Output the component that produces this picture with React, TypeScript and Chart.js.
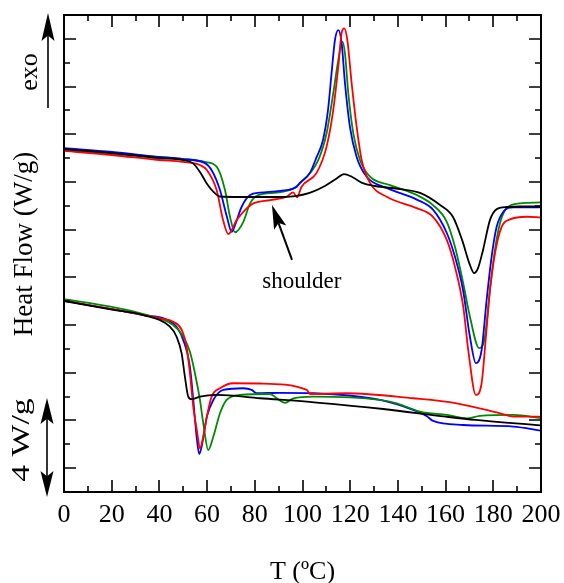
import { useEffect, useRef } from 'react';
import { Chart, registerables } from 'chart.js';

Chart.register(...registerables);

// ---------- data (T in °C, heat flow in W/g, curves offset vertically) ----------
const xTickValues = [0, 20, 40, 60, 80, 100, 120, 140, 160, 180, 200];

const blackTopT = [0, 20, 40, 50, 54, 57, 60, 62, 65.4, 73.8, 86.4, 96.9, 103, 109.4, 114, 117.4, 120.8, 125, 130.4, 140.9, 149.3, 157.7, 163.1, 166.9, 170.2, 171.9, 173.6, 175.7, 178.6, 181.6, 185.7, 191.2, 200];
const blackTopY = [14.38, 14.21, 14.0, 13.92, 13.79, 13.42, 12.91, 12.66, 12.39, 12.37, 12.37, 12.41, 12.54, 12.83, 13.12, 13.33, 13.21, 12.96, 12.83, 12.7, 12.54, 12.03, 11.53, 10.57, 9.52, 9.18, 9.39, 10.15, 11.4, 11.87, 11.95, 11.97, 11.97];

const blueTopT = [0, 20.1, 39.8, 49.9, 59.1, 62.1, 65.4, 68.3, 70.3, 71.7, 74.5, 78.0, 82.2, 90.6, 97.6, 98.9, 103.1, 106.0, 108.6, 110.7, 112.2, 113.6, 115.0, 116.4, 117.8, 119.9, 122.7, 126.9, 135.3, 147.9, 154.7, 160.5, 163.9, 167.3, 170.2, 172.7, 175.1, 177.2, 179.3, 181.4, 184.2, 188.4, 200];
const blueTopY = [14.42, 14.26, 14.05, 13.96, 13.79, 13.46, 12.66, 11.54, 10.91, 11.19, 11.96, 12.45, 12.55, 12.63, 12.8, 12.96, 13.38, 14.06, 14.76, 16.02, 17.57, 18.95, 19.37, 18.83, 17.15, 15.3, 14.05, 13.22, 12.75, 12.26, 11.84, 10.86, 9.87, 8.47, 6.51, 5.4, 5.95, 8.05, 9.87, 11.12, 11.75, 11.94, 11.94];

const redTopT = [0, 20.1, 39.8, 49.9, 57.0, 59.9, 64.0, 66.7, 68.9, 72.4, 75.9, 79.4, 86.4, 93.4, 96.1, 97.7, 99.6, 105.9, 110.1, 112.9, 115.0, 116.4, 117.5, 118.8, 120.6, 122.7, 124.8, 128.3, 135.3, 147.9, 154.7, 160.5, 163.9, 167.4, 169.5, 172.7, 175.1, 176.9, 178.6, 180.7, 183.5, 187.0, 194.0, 200];
const redTopY = [14.3, 14.13, 13.92, 13.84, 13.71, 13.5, 12.66, 11.4, 10.81, 11.4, 11.82, 12.1, 12.24, 12.38, 12.56, 12.35, 12.8, 13.38, 14.48, 16.02, 17.83, 19.25, 19.44, 18.95, 17.15, 15.32, 13.92, 12.96, 12.38, 11.9, 11.54, 10.57, 9.45, 7.77, 5.95, 4.07, 4.56, 6.51, 8.47, 10.01, 11.12, 11.43, 11.54, 11.51];

const greenTopT = [0, 20.1, 39.8, 49.9, 59.1, 64.0, 67.5, 69.6, 71.7, 75.2, 78.0, 81.5, 89.2, 96.2, 98.9, 106.6, 110.1, 112.9, 115.0, 116.7, 117.8, 119.2, 121.3, 124.1, 128.3, 136.7, 147.9, 154.7, 160.5, 163.9, 167.4, 170.2, 174.1, 176.5, 178.6, 180.7, 182.8, 185.6, 191.2, 200];
const greenTopY = [14.34, 14.21, 14.05, 13.96, 13.84, 13.64, 12.66, 11.54, 10.89, 11.33, 12.1, 12.45, 12.55, 12.73, 12.94, 13.92, 15.04, 16.72, 18.11, 18.88, 18.39, 16.72, 15.04, 13.92, 13.22, 12.87, 12.45, 12.03, 11.33, 10.29, 8.75, 7.35, 6.03, 6.51, 8.47, 10.15, 11.27, 11.9, 12.1, 12.14];

const blackBotT = [0, 20.1, 33.3, 44.4, 47.2, 49.3, 50.7, 52.1, 53.5, 57.0, 64.0, 82.2, 105.9, 133.8, 160.0, 172.6, 200];
const blackBotY = [8.01, 7.65, 7.42, 6.93, 6.51, 5.82, 4.83, 4.0, 3.89, 4.0, 4.07, 3.93, 3.75, 3.48, 3.16, 3.02, 2.79];

const redBotT = [0, 20.1, 33.3, 40.3, 45.8, 49.4, 51.4, 52.8, 54.2, 55.9, 57.0, 58.4, 59.9, 61.9, 65.4, 71.0, 82.2, 101.8, 103.1, 118.5, 146.4, 164.6, 182.8, 188.4, 200];
const redBotY = [8.01, 7.67, 7.42, 7.28, 7.14, 6.79, 6.09, 4.98, 3.58, 2.46, 1.83, 2.32, 3.16, 4.0, 4.35, 4.56, 4.55, 4.28, 4.11, 4.14, 3.93, 3.72, 3.3, 3.16, 3.16];

const blueBotT = [0, 20.1, 33.3, 45.8, 50.0, 52.8, 54.2, 55.6, 56.7, 57.7, 59.9, 62.6, 66.8, 75.2, 78.7, 80.8, 90.6, 104.5, 132.5, 146.4, 152.0, 154.8, 167.4, 188.4, 200];
const blueBotY = [8.01, 7.67, 7.42, 7.07, 6.37, 5.25, 3.86, 2.32, 1.59, 1.9, 3.16, 3.86, 4.28, 4.35, 4.28, 4.14, 4.16, 4.14, 3.86, 3.44, 3.19, 2.98, 2.81, 2.74, 2.57];

const greenBotT = [0, 20.1, 33.3, 45.8, 50.0, 52.8, 54.9, 57.0, 58.4, 60.5, 62.6, 65.4, 68.2, 73.8, 86.4, 89.2, 92.7, 96.2, 104.5, 132.5, 139.5, 149.3, 160.5, 168.9, 174.4, 188.4, 200];
const greenBotY = [8.09, 7.76, 7.46, 7.0, 6.51, 5.88, 4.98, 3.86, 2.88, 1.76, 2.32, 3.3, 3.86, 4.07, 4.11, 3.93, 3.74, 3.93, 4.0, 3.86, 3.72, 3.37, 3.23, 3.09, 3.19, 3.23, 3.1];

// shoulder annotation (data coordinates)
const shoulderTip = { x: 87.2, y: 12.03 };
const shoulderTail = { x: 95.6, y: 9.73 };
const shoulderText = { x: 99.7, y: 8.8 };

const SERIF = "'Liberation Serif', 'Times New Roman', serif";
const BLACK = '#000000';
const RED = '#ff0000';
const BLUE = '#0000ff';
const GREEN = '#008a00';

const zip = (xs: number[], ys: number[]) => xs.map((x, i) => ({ x, y: ys[i] }));

function drawArrow(ctx: CanvasRenderingContext2D, x1: number, y1: number, x2: number, y2: number, len: number, half: number) {
  const a = Math.atan2(y2 - y1, x2 - x1);
  const c = Math.cos(a), s = Math.sin(a);
  const bx = x2 - len * c, by = y2 - len * s;
  const nx = x2 - len * 0.8 * c, ny = y2 - len * 0.8 * s;
  ctx.beginPath();
  ctx.moveTo(x1, y1);
  ctx.lineTo(nx, ny);
  ctx.stroke();
  ctx.beginPath();
  ctx.moveTo(x2, y2);
  ctx.lineTo(bx - half * s, by + half * c);
  ctx.lineTo(nx, ny);
  ctx.lineTo(bx + half * s, by - half * c);
  ctx.closePath();
  ctx.fill();
}

function rotatedText(ctx: CanvasRenderingContext2D, text: string, x: number, y: number, size: number, stretch = 1) {
  ctx.save();
  ctx.translate(x, y);
  ctx.rotate(-Math.PI / 2);
  ctx.scale(stretch, 1);
  ctx.font = `${size}px ${SERIF}`;
  ctx.textAlign = 'center';
  ctx.textBaseline = 'middle';
  ctx.fillText(text, 0, 0);
  ctx.restore();
}

const decorPlugin = {
  id: 'decor',
  afterDraw(chart: any) {
    const { ctx, chartArea: ca, scales } = chart;
    const xs = scales.x, ys = scales.y;
    ctx.save();
    ctx.strokeStyle = BLACK;
    ctx.fillStyle = BLACK;
    // frame
    ctx.lineWidth = 2;
    ctx.strokeRect(ca.left, ca.top, ca.right - ca.left, ca.bottom - ca.top);
    // x ticks (bottom & top, inward)
    ctx.lineWidth = 1.6;
    for (let v = 10; v < 200; v += 10) {
      const px = Math.round(xs.getPixelForValue(v));
      const len = v % 20 === 0 ? 12 : 6;
      ctx.beginPath();
      ctx.moveTo(px, ca.bottom);
      ctx.lineTo(px, ca.bottom - len);
      ctx.moveTo(px, ca.top);
      ctx.lineTo(px, ca.top + len);
      ctx.stroke();
    }
    // y ticks (left & right, inward)
    for (let v = 1; v < 20; v += 1) {
      const py = Math.round(ys.getPixelForValue(v));
      const len = v % 2 === 1 ? 12 : 6;
      ctx.beginPath();
      ctx.moveTo(ca.left, py);
      ctx.lineTo(ca.left + len, py);
      ctx.moveTo(ca.right, py);
      ctx.lineTo(ca.right - len, py);
      ctx.stroke();
    }
    // axis titles
    ctx.font = `26px ${SERIF}`;
    ctx.textAlign = 'center';
    ctx.textBaseline = 'middle';
    ctx.fillText('T (ºC)', (ca.left + ca.right) / 2, 572);
    rotatedText(ctx, 'Heat Flow (W/g)', 25, 244, 27);
    rotatedText(ctx, 'exo', 30, 72, 26);
    rotatedText(ctx, '4 W/g', 22, 440, 26, 1.3);
    // exo arrow
    ctx.lineWidth = 1.6;
    drawArrow(ctx, 48, 108, 48, 13, 28, 6.5);
    // 4 W/g double arrow
    drawArrow(ctx, 47, 448, 47, 398, 26, 6.5);
    drawArrow(ctx, 47, 448, 47, 497, 26, 6.5);
    // shoulder
    const tx = xs.getPixelForValue(shoulderTip.x), ty = ys.getPixelForValue(shoulderTip.y);
    const lx = xs.getPixelForValue(shoulderTail.x), ly = ys.getPixelForValue(shoulderTail.y);
    ctx.lineWidth = 2;
    drawArrow(ctx, lx, ly, tx, ty, 24, 6.5);
    ctx.font = `23px ${SERIF}`;
    ctx.fillText('shoulder', xs.getPixelForValue(shoulderText.x), ys.getPixelForValue(shoulderText.y));
    ctx.restore();
  },
};

const line = (label: string, color: string, xs: number[], ys: number[]) => ({
  label,
  data: zip(xs, ys),
  borderColor: color,
  backgroundColor: color,
  borderWidth: 1.8,
  pointRadius: 0,
  fill: false,
  cubicInterpolationMode: 'monotone' as const,
});

export default function App() {
  const ref = useRef<HTMLCanvasElement>(null);
  useEffect(() => {
    const chart = new Chart(ref.current as HTMLCanvasElement, {
      type: 'line',
      data: {
        datasets: [
          line('black top', BLACK, blackTopT, blackTopY),
          line('red top', RED, redTopT, redTopY),
          line('blue top', BLUE, blueTopT, blueTopY),
          line('green top', GREEN, greenTopT, greenTopY),
          line('black bottom', BLACK, blackBotT, blackBotY),
          line('red bottom', RED, redBotT, redBotY),
          line('green bottom', GREEN, greenBotT, greenBotY),
          line('blue bottom', BLUE, blueBotT, blueBotY),
        ],
      },
      options: {
        responsive: false,
        animation: false,
        devicePixelRatio: 1,
        layout: { padding: { left: 64, right: 23, top: 15, bottom: 0 } },
        plugins: { legend: { display: false }, tooltip: { enabled: false } },
        scales: {
          x: {
            type: 'linear',
            min: 0,
            max: 200,
            afterFit: (s: any) => { s.height = 91; s.paddingLeft = 0; s.paddingRight = 0; },
            afterBuildTicks: (s: any) => { s.ticks = xTickValues.map((v) => ({ value: v })); },
            grid: { display: false, drawTicks: false },
            border: { display: false },
            ticks: {
              color: BLACK,
              padding: 8,
              maxRotation: 0,
              autoSkip: false,
              font: { family: SERIF, size: 26 },
            },
          },
          y: {
            type: 'linear',
            min: 0,
            max: 20,
            display: false,
          },
        },
      },
      plugins: [decorPlugin],
    } as any);
    return () => chart.destroy();
  }, []);
  return (
    <div style={{ position: 'absolute', left: 0, top: 0, width: 564, height: 583, background: '#fff' }}>
      <canvas ref={ref} width={564} height={583} style={{ display: 'block', width: 564, height: 583 }} />
    </div>
  );
}
